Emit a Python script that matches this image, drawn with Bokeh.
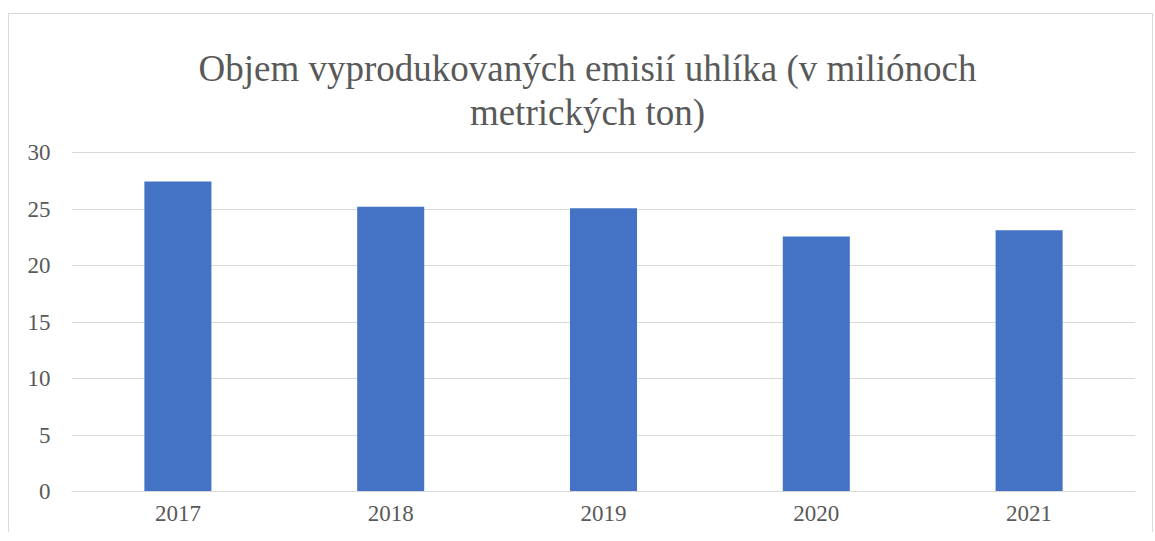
from bokeh.plotting import figure
from bokeh.models import FactorRange, Range1d, FixedTicker, ColumnDataSource
from bokeh.core.properties import value
from bokeh.transform import dodge
from bokeh.embed import file_html
from bokeh.resources import INLINE

# Data
years = ["2017", "2018", "2019", "2020", "2021"]
emissions = [27.43, 25.2, 25.06, 22.57, 23.12]
y_ticks = [0, 5, 10, 15, 20, 25, 30]
title_lines = ["Objem vyprodukovaných emisií uhlíka (v miliónoch", "metrických ton)"]

FONT = "Liberation Serif"
TEXT_COLOR = "#595959"
GRID = "#d9d9d9"

# Layout (pixels): frame spans from canvas top down to the zero line
frame_h = 477          # plot frame height in px
axis_px = 339          # px between 0 and 30
y_max = 30
y_end = y_max * frame_h / axis_px
px_per_unit = axis_px / y_max
title_baselines_px = [423, 379]   # distance of title baselines above the zero line

source = ColumnDataSource(data=dict(years=years, emissions=emissions))
title_src = ColumnDataSource(data=dict(
    x=[years[2]] * len(title_lines),
    y=[b / px_per_unit for b in title_baselines_px],
    text=title_lines,
))

p = figure(
    x_range=FactorRange(*years, range_padding=0),
    y_range=Range1d(0, y_end),
    width=1145, height=519,
    output_backend="svg", toolbar_location=None,
    min_border_left=62, min_border_right=19,
    min_border_top=0, min_border_bottom=42,
)
p.title = None
p.margin = (13, 0, 0, 8)
p.styles = {"border-top": "1px solid #d9d9d9", "border-left": "1px solid #d9d9d9",
            "border-right": "1px solid #d9d9d9"}

p.vbar(x="years", top="emissions", width=0.315, source=source,
       fill_color="#4472C4", line_color=None)

p.text(x=dodge("x", -0.075, range=p.x_range), y="y", text="text", source=title_src,
       text_align="center", text_baseline="alphabetic",
       text_font=value(FONT), text_font_size="37px", text_color=TEXT_COLOR)

p.outline_line_color = None
p.background_fill_color = "white"
p.border_fill_color = "white"

p.xgrid.grid_line_color = None
p.ygrid.grid_line_color = GRID
p.ygrid.grid_line_width = 1

p.yaxis.ticker = FixedTicker(ticks=y_ticks)
for ax in (p.xaxis, p.yaxis):
    ax.major_tick_line_color = None
    ax.minor_tick_line_color = None
    ax.major_tick_out = 0
    ax.major_tick_in = 0
    ax.major_label_text_font = FONT
    ax.major_label_text_font_size = "23px"
    ax.major_label_text_color = TEXT_COLOR
p.yaxis.axis_line_color = None
p.xaxis.axis_line_color = GRID
p.yaxis.major_label_standoff = 21
p.xaxis.major_label_standoff = 14

open("out.html", "w").write(file_html(p, INLINE))
